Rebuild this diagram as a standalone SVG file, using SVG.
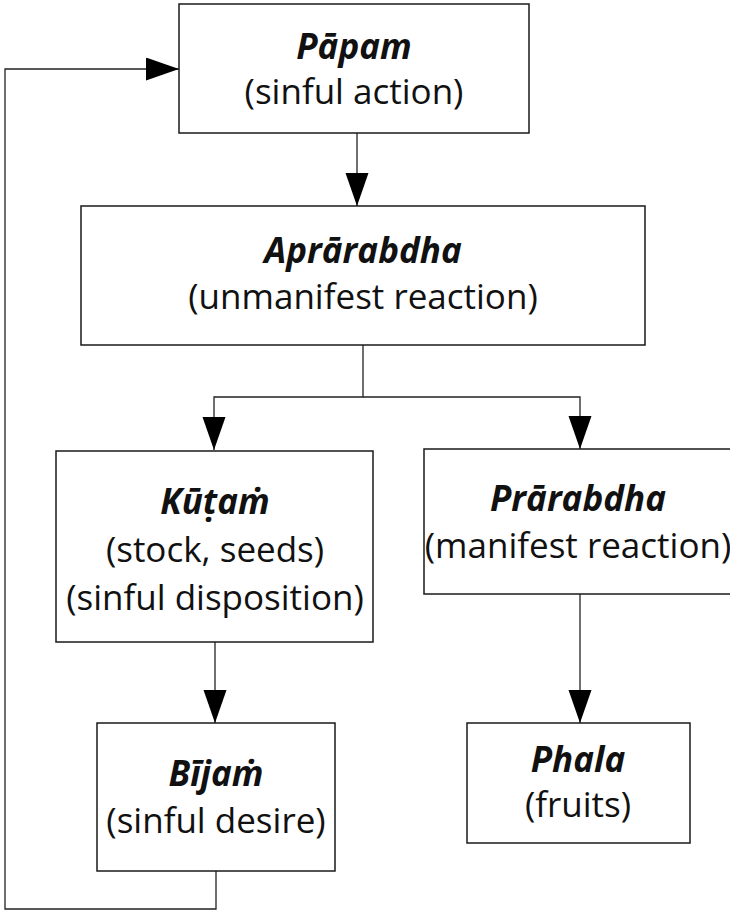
<svg xmlns="http://www.w3.org/2000/svg" width="730" height="910" viewBox="0 0 730 910">
<style>
.box{fill:#fff;stroke:#1a1a1a;stroke-width:1.5}
.t{font-family:"Open Sans","Noto Sans",sans-serif;font-size:35px;fill:#111;text-anchor:middle}
.h{font-weight:bold;font-style:italic}
.c{fill:none;stroke:#222;stroke-width:1.3}
</style>
<defs>
<marker id="arr" markerUnits="userSpaceOnUse" markerWidth="34" markerHeight="24" refX="33" refY="11.5" orient="auto" viewBox="0 0 34 24">
<path d="M0,0 L33,11.5 L0,23 z" fill="#000"/>
</marker>
</defs>
<rect x="0" y="0" width="730" height="910" fill="#fff"/>
<g id="connectors">
<path class="c" d="M357 133 V206" marker-end="url(#arr)"/>
<path class="c" d="M363 345 V397 H214 V450" marker-end="url(#arr)"/>
<path class="c" d="M363 397 H580 V449" marker-end="url(#arr)"/>
<path class="c" d="M580 594 V723" marker-end="url(#arr)"/>
<path class="c" d="M215 642 V723" marker-end="url(#arr)"/>
<path class="c" d="M216 871 V909 H5 V69 H179" marker-end="url(#arr)"/>
</g>
<g id="papam">
<rect class="box" x="179" y="4" width="350" height="129"/>
<text class="t h" x="354" y="59">Pāpam</text>
<text class="t" x="354" y="104">(sinful action)</text>
</g>
<g id="aprarabdha">
<rect class="box" x="81" y="206" width="564" height="139"/>
<text class="t h" x="363" y="263">Aprārabdha</text>
<text class="t" x="363" y="309">(unmanifest reaction)</text>
</g>
<g id="kutam">
<rect class="box" x="56" y="451" width="317" height="191"/>
<text class="t h" x="215" y="514">Kūṭaṁ</text>
<text class="t" x="215" y="562">(stock, seeds)</text>
<text class="t" x="215" y="610">(sinful disposition)</text>
</g>
<g id="prarabdha">
<rect class="box" x="424" y="449" width="320" height="145"/>
<text class="t h" x="578" y="511">Prārabdha</text>
<text class="t" x="578" y="558">(manifest reaction)</text>
</g>
<g id="bijam">
<rect class="box" x="97" y="723" width="238" height="148"/>
<text class="t h" x="216" y="786">Bījaṁ</text>
<text class="t" x="216" y="833">(sinful desire)</text>
</g>
<g id="phala">
<rect class="box" x="467" y="723" width="223" height="120"/>
<text class="t h" x="578" y="772">Phala</text>
<text class="t" x="578" y="817">(fruits)</text>
</g>
</svg>
